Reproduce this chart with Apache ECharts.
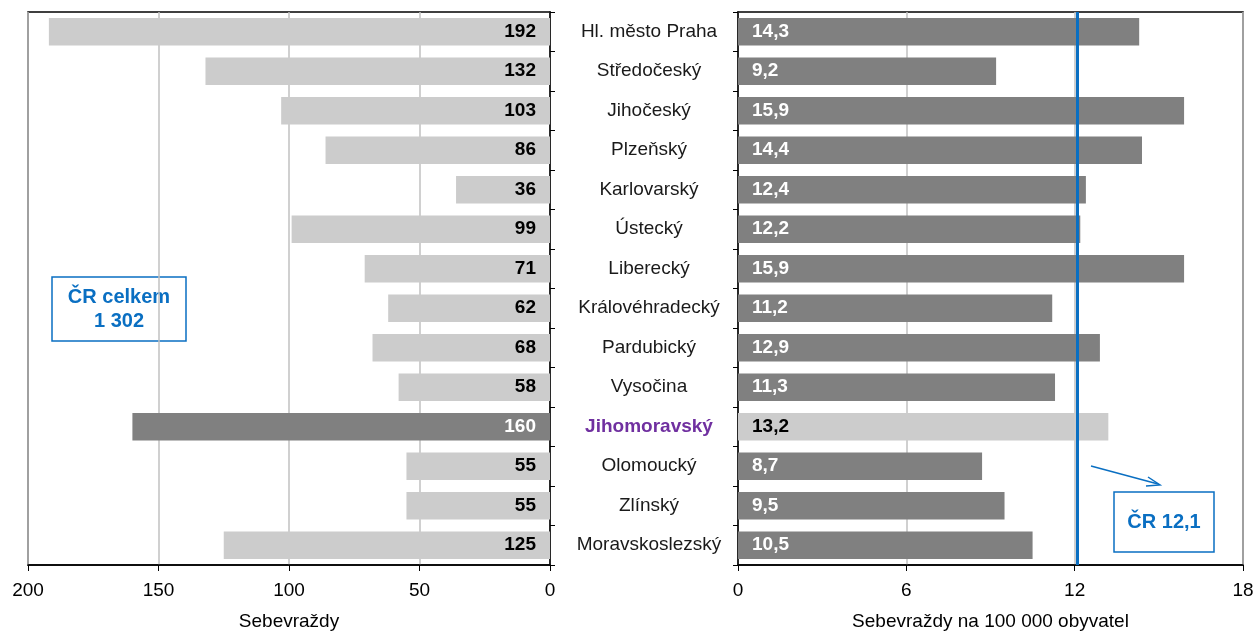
<!DOCTYPE html>
<html><head><meta charset="utf-8">
<script src="https://cdn.jsdelivr.net/npm/echarts@6/dist/echarts.min.js"></script>
<style>html,body{margin:0;padding:0;background:#fff}#c{width:1259px;height:634px}</style>
</head><body><div id="c"></div>
<script>
var categories = ["Hl. město Praha","Středočeský","Jihočeský","Plzeňský","Karlovarský","Ústecký","Liberecký","Královéhradecký","Pardubický","Vysočina","Jihomoravský","Olomoucký","Zlínský","Moravskoslezský"];
var suicides = [192,132,103,86,36,99,71,62,68,58,160,55,55,125];
var ratePer100k = [14.3,9.2,15.9,14.4,12.4,12.2,15.9,11.2,12.9,11.3,13.2,8.7,9.5,10.5];
var leftTicks = [0,50,100,150,200];
var rightTicks = [0,6,12,18];
var crRate = 12.1;
var crTotal = "1 302";
var highlight = "Jihomoravský";

var FONT = "Liberation Sans, Arial, sans-serif";
var LIGHT = "#cccccc", DARK = "#808080", BLUE = "#0a6fc2";
var FS = 19;

var leftData = suicides.map(function(v,i){
  var hi = categories[i] === highlight;
  return {value:v, itemStyle:{color: hi?DARK:LIGHT}, label:{color: hi?"#fff":"#000"}};
});
var rightData = ratePer100k.map(function(v,i){
  var hi = categories[i] === highlight;
  return {value:v, itemStyle:{color: hi?LIGHT:DARK}, label:{color: hi?"#000":"#fff"}};
});

var chart = echarts.init(document.getElementById('c'), null, {renderer:'canvas'});
chart.setOption({
  animation:false,
  textStyle:{fontFamily:FONT},
  grid:[
    {left:28, right:709, top:12, bottom:69, show:true, borderColor:'#000', borderWidth:1.5, containLabel:false, outerBoundsMode:'none'},
    {left:738, right:16, top:12, bottom:69, show:true, borderColor:'#000', borderWidth:1.5, containLabel:false, outerBoundsMode:'none'}
  ],
  xAxis:[
    {gridIndex:0, type:'value', inverse:true, min:leftTicks[0], max:leftTicks[leftTicks.length-1], interval:50,
     axisLine:{show:true, lineStyle:{color:'#000', width:1.5}}, axisTick:{show:true, inside:false, length:6, lineStyle:{color:'#000'}},
     axisLabel:{fontSize:FS, color:'#000', margin:16, fontFamily:FONT},
     splitLine:{show:true, lineStyle:{color:'#c0c0c0', width:1.5}},
     name:'Sebevraždy', nameLocation:'middle', nameGap:47, nameTextStyle:{fontSize:FS, color:'#000', fontFamily:FONT}},
    {gridIndex:1, type:'value', min:rightTicks[0], max:rightTicks[rightTicks.length-1], interval:6,
     axisLine:{show:true, lineStyle:{color:'#000', width:1.5}}, axisTick:{show:true, inside:false, length:6, lineStyle:{color:'#000'}},
     axisLabel:{fontSize:FS, color:'#000', margin:16, fontFamily:FONT},
     splitLine:{show:true, lineStyle:{color:'#c0c0c0', width:1.5}},
     name:'Sebevraždy na 100 000 obyvatel', nameLocation:'middle', nameGap:47, nameTextStyle:{fontSize:FS, color:'#000', fontFamily:FONT}}
  ],
  yAxis:[
    {gridIndex:0, type:'category', data:categories, inverse:true, position:'right',
     axisLine:{show:true, lineStyle:{color:'#000', width:1.5}}, axisTick:{show:true, inside:false, length:5, lineStyle:{color:'#000'}},
     axisLabel:{show:false}},
    {gridIndex:1, type:'category', data:categories, inverse:true, position:'left',
     axisLine:{show:true, lineStyle:{color:'#000', width:1.5}}, axisTick:{show:true, inside:false, length:5, lineStyle:{color:'#000'}},
     axisLabel:{show:true, align:'center', margin:89, fontSize:FS, color:'#1a1a1a', fontFamily:FONT,
       formatter:function(v){ return v===highlight ? '{h|'+v+'}' : v; },
       rich:{h:{color:'#7030a0', fontWeight:'bold', fontSize:FS, fontFamily:FONT}}}}
  ],
  series:[
    {type:'bar', xAxisIndex:0, yAxisIndex:0, data:leftData, barCategoryGap:'30%',
     label:{show:true, position:'insideRight', fontWeight:'bold', fontSize:FS, fontFamily:FONT, distance:14}},
    {type:'bar', xAxisIndex:1, yAxisIndex:1, data:rightData, barCategoryGap:'30%',
     label:{show:true, position:'insideLeft', fontWeight:'bold', fontSize:FS, fontFamily:FONT, distance:14,
       formatter:function(p){return p.value.toFixed(1).replace('.',',');}},
     markLine:{silent:true, symbol:'none', label:{show:false}, lineStyle:{color:BLUE, width:3, type:'solid'},
       data:[{xAxis:crRate}]}}
  ],
  graphic:[
    {type:'rect', shape:{x:52, y:277, width:134, height:64}, style:{fill:'#fff', stroke:BLUE, lineWidth:1.5}},
    {type:'text', x:119, y:309, style:{text:'ČR celkem\n'+crTotal, fill:BLUE, font:'bold 20px '+FONT, align:'center', verticalAlign:'middle', lineHeight:24}},
    {type:'rect', shape:{x:1114, y:492, width:100, height:60}, style:{fill:'#fff', stroke:BLUE, lineWidth:1.5}},
    {type:'text', x:1164, y:522, style:{text:'ČR '+String(crRate).replace('.',','), fill:BLUE, font:'bold 20px '+FONT, align:'center', verticalAlign:'middle'}},
    {type:'line', shape:{x1:1091, y1:466, x2:1158, y2:484}, style:{stroke:BLUE, lineWidth:1.5}},
    {type:'polyline', shape:{points:[[1148,477],[1160,485],[1146,486]]}, style:{stroke:BLUE, lineWidth:1.5, fill:null}}
  ]
});
</script></body></html>
